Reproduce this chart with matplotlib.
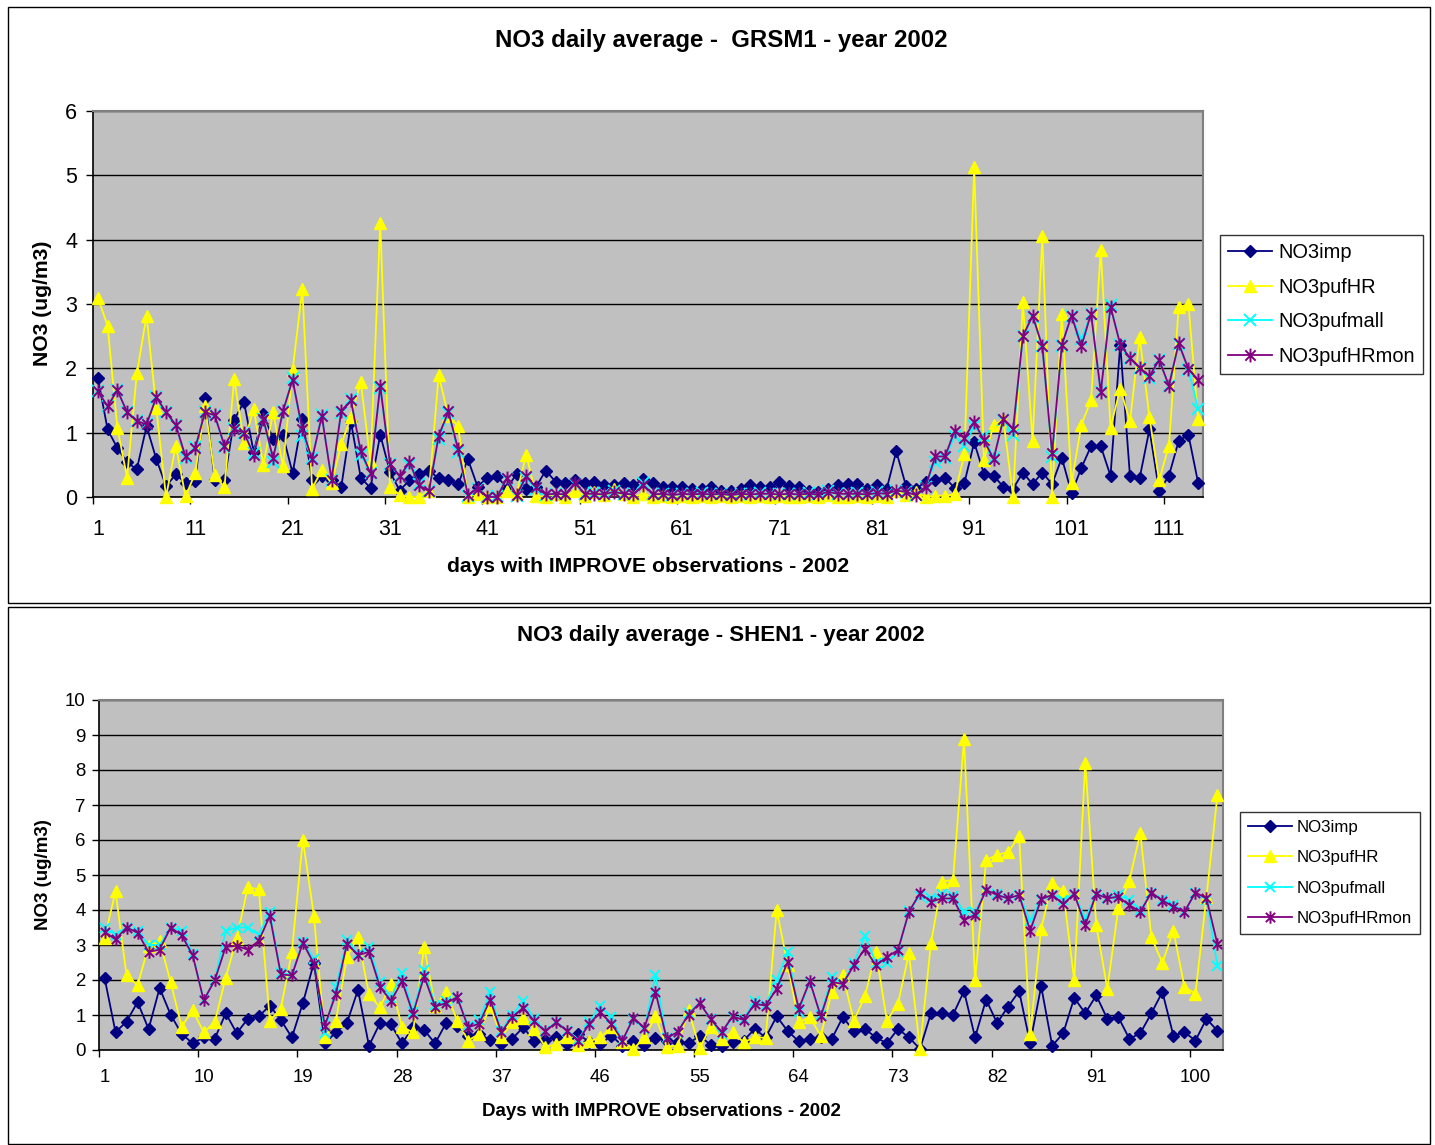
import matplotlib
matplotlib.use('Agg')
import matplotlib.pyplot as plt
from matplotlib.path import Path
from matplotlib.patches import Rectangle
import numpy as np

plt.rcParams['font.family'] = ['Liberation Sans', 'DejaVu Sans']

# ---------------- data: GRSM1 (top) ----------------
grsm_imp = [1.85,1.05,0.76,0.54,0.43,1.1,0.59,0.17,0.35,0.22,
            0.25,1.54,0.27,0.26,1.2,1.48,0.7,1.29,0.9,0.97,
            0.37,1.22,0.27,0.32,0.26,0.16,1.16,0.3,0.14,0.97,
            0.39,0.1,0.26,0.36,0.41,0.29,0.26,0.2,0.59,0.16,
            0.3,0.33,0.13,0.36,0.13,
            0.16,0.41,0.24,0.22,0.27,0.21,0.23,0.19,0.18,0.22,0.18,0.28,0.21,0.15,0.15,0.15,0.12,0.13,0.16,0.1,0.1,0.13,0.18,0.16,0.15,0.23,0.17,
            0.16,0.1,0.08,0.12,0.18,0.2,0.2,0.12,0.18,0.12,0.71,0.17,0.12,0.24,0.26,0.3,0.14,0.22,0.85,0.36,0.33,
            0.16,0.13,0.38,0.2,0.38,0.2,0.61,0.06,0.45,0.79,0.79,0.33,2.37,0.32,0.3,1.05,0.09,0.33,0.87,0.97,0.22]
grsm_hr = [3.1,2.66,1.08,0.3,1.92,2.82,1.38,0.0,0.8,0.01,
           0.37,1.42,0.34,0.15,1.84,0.84,1.37,0.5,1.32,0.48,
           1.97,3.24,0.13,0.42,0.21,0.82,1.25,1.79,0.55,4.26,
           0.16,0.03,0.0,0.0,0.1,1.89,1.26,1.1,0.0,0.05,
           0.0,0.0,0.1,0.05,0.66,
           0.02,0.0,0.05,0.0,0.1,0.02,0.08,0.03,0.12,0.04,0.0,0.05,0.0,0.02,0.0,0.01,0.0,0.02,0.0,0.01,0.0,0.02,0.0,0.01,0.0,0.02,0.0,
           0.0,0.02,0.0,0.03,0.0,0.0,0.02,0.0,0.01,0.0,0.1,0.03,0.08,0.0,0.02,0.02,0.04,0.67,5.13,0.58,1.12,
           1.2,0.0,3.03,0.87,4.05,0.0,2.85,0.21,1.12,1.5,3.84,1.08,1.68,1.18,2.48,1.24,0.26,0.8,2.95,3.0,1.22]
grsm_mall = [1.64,1.41,1.66,1.32,1.18,1.13,1.55,1.32,1.12,0.6,
             0.78,1.32,1.27,0.78,1.05,1.0,0.68,1.21,0.55,1.33,
             1.85,0.95,0.6,1.28,0.27,1.3,1.52,0.65,0.38,1.7,
             0.52,0.32,0.5,0.2,0.1,0.9,1.3,0.7,0.02,0.13,
             0.0,0.02,0.28,0.02,0.3,
             0.12,0.03,0.05,0.04,0.2,0.05,0.06,0.04,0.1,0.05,0.04,0.22,0.04,0.05,0.03,0.05,0.04,0.06,0.04,0.05,0.03,0.05,0.04,0.06,0.05,0.04,0.05,
             0.04,0.06,0.04,0.1,0.05,0.05,0.06,0.04,0.08,0.05,0.1,0.08,0.03,0.15,0.55,0.6,0.95,0.8,1.1,0.95,0.6,
             1.2,0.96,2.5,2.8,2.35,0.62,2.35,2.82,2.45,2.85,1.63,2.98,2.37,2.16,2.0,1.85,2.13,1.73,2.38,1.98,1.37]
grsm_hrmon = [1.64,1.41,1.66,1.32,1.18,1.13,1.55,1.32,1.12,0.63,
              0.76,1.32,1.27,0.8,1.05,1.0,0.66,1.21,0.6,1.33,
              1.82,1.05,0.59,1.26,0.27,1.34,1.5,0.71,0.37,1.73,
              0.52,0.32,0.54,0.18,0.09,0.95,1.33,0.74,0.03,0.13,
              0.0,0.0,0.29,0.03,0.32,
              0.15,0.04,0.05,0.04,0.22,0.05,0.05,0.04,0.08,0.05,0.04,0.19,0.04,0.05,0.03,0.05,0.04,0.05,0.04,0.05,0.03,0.05,0.04,0.05,0.05,0.04,0.05,
              0.04,0.05,0.04,0.08,0.05,0.05,0.05,0.04,0.06,0.05,0.1,0.08,0.03,0.16,0.63,0.63,1.03,0.92,1.17,0.88,0.59,
              1.22,1.06,2.5,2.82,2.34,0.68,2.36,2.82,2.34,2.85,1.63,2.96,2.37,2.16,2.01,1.88,2.13,1.73,2.39,1.99,1.82]

# ---------------- data: SHEN1 (bottom) ----------------
shen_imp = [2.07,0.51,0.81,1.37,0.6,1.77,1.01,0.46,0.19,0.36,
            0.32,1.05,0.48,0.89,0.96,1.27,0.86,0.36,1.34,2.49,
            0.19,0.51,0.77,1.72,0.12,0.77,0.73,0.19,0.65,0.57,
            0.19,0.77,0.7,0.41,0.46,0.29,0.17,0.32,0.65,0.25,
            0.3,0.36,0.17,0.46,0.22,0.17,0.41,0.12,0.25,0.15,
            0.34,0.27,0.22,0.19,0.4,0.15,0.12,0.22,0.27,0.6,
            0.36,0.96,0.54,0.25,0.32,0.36,0.32,0.94,0.54,0.6,
            0.36,0.19,0.6,0.36,0.03,1.05,1.05,1.01,1.68,0.36,
            1.44,0.77,1.24,1.68,0.19,1.82,0.12,0.48,1.49,1.05,
            1.56,0.89,0.94,0.32,0.48,1.05,1.66,0.41,0.51,0.27,
            0.89,0.55]
shen_hr = [3.19,4.53,2.13,1.85,2.97,3.12,1.94,0.67,1.13,0.51,
           0.79,2.07,3.19,4.65,4.59,0.84,1.18,2.8,6.01,3.84,
           0.36,0.84,2.66,3.23,1.59,1.22,1.89,0.65,0.51,2.95,
           1.27,1.66,0.84,0.27,0.46,1.27,0.36,0.79,0.92,0.6,
           0.08,0.17,0.36,0.15,0.25,0.36,0.65,0.22,0.03,0.36,
           0.96,0.1,0.12,1.13,0.06,0.65,0.32,0.51,0.22,0.36,
           0.35,4.0,2.42,0.79,0.94,0.41,1.66,2.13,0.84,1.53,
           2.8,0.84,1.32,2.76,0.03,3.06,4.81,4.86,8.88,1.99,
           5.42,5.58,5.65,6.11,0.46,3.47,4.78,4.53,1.99,8.21,
           3.57,1.75,4.05,4.84,6.2,3.22,2.49,3.41,1.8,1.61,
           4.38,7.3]
shen_mall = [3.5,3.3,3.5,3.4,3.0,3.0,3.5,3.4,2.75,1.42,
             2.0,3.4,3.5,3.5,3.3,3.95,2.2,2.15,3.1,2.6,
             0.5,1.8,3.15,2.75,2.95,1.95,1.5,2.2,1.1,2.3,
             1.3,1.4,1.5,0.7,0.85,1.65,0.55,1.0,1.4,0.88,
             0.55,0.8,0.55,0.3,0.8,1.25,0.95,0.25,0.9,0.6,
             2.15,0.35,0.5,1.05,1.35,0.9,0.45,0.95,0.9,1.4,
             1.3,2.0,2.8,1.1,1.95,1.0,2.1,1.9,2.5,3.25,
             2.5,2.5,2.8,3.98,4.4,4.35,4.45,4.4,3.95,3.95,
             4.55,4.45,4.33,4.43,3.7,4.3,4.43,4.3,4.46,3.75,
             4.45,4.35,4.42,4.3,4.0,4.48,4.3,4.15,3.95,4.48,
             4.3,2.4]
shen_hrmon = [3.38,3.16,3.5,3.35,2.8,2.87,3.5,3.28,2.71,1.42,
              1.99,2.95,2.97,2.87,3.12,3.83,2.16,2.13,3.06,2.47,
              0.7,1.61,3.04,2.71,2.8,1.8,1.4,1.97,1.03,2.11,
              1.24,1.34,1.51,0.65,0.75,1.44,0.51,0.94,1.21,0.82,
              0.53,0.79,0.54,0.27,0.75,1.08,0.75,0.27,0.92,0.63,
              1.66,0.34,0.51,1.01,1.34,0.89,0.51,0.96,0.86,1.32,
              1.27,1.75,2.52,1.18,1.97,0.96,1.94,1.89,2.42,2.9,
              2.42,2.66,2.85,3.95,4.48,4.24,4.33,4.33,3.71,3.86,
              4.57,4.43,4.33,4.43,3.41,4.31,4.43,4.17,4.46,3.57,
              4.46,4.33,4.38,4.14,3.95,4.5,4.27,4.1,3.95,4.5,
              4.33,3.02]

series_names = ['NO3imp', 'NO3pufHR', 'NO3pufmall', 'NO3pufHRmon']

# ---------------- figure ----------------
W, H = 1435, 1145
fig = plt.figure(figsize=(W / 100, H / 100), dpi=100)

def fx(px):
    return px / W

def fy(py):
    return 1 - py / H

# outer chart frames
for (x0, y0, x1, y1) in [(8, 7, 1430, 603), (8, 607, 1430, 1144)]:
    fig.patches.append(Rectangle((fx(x0), fy(y1)), fx(x1) - fx(x0), fy(y0) - fy(y1),
                                 transform=fig.transFigure, fill=False,
                                 edgecolor='black', lw=1.0))

star = Path([(-1, -1), (1, 1), (-1, 1), (1, -1), (0, -1.35), (0, 1.35)],
            [Path.MOVETO, Path.LINETO, Path.MOVETO, Path.LINETO, Path.MOVETO, Path.LINETO])

styles = [
    dict(color='#000080', marker='D', mfc='#000080', mec='#000080'),
    dict(color='#FFFF00', marker='^', mfc='#FFFF00', mec='#FFFF00'),
    dict(color='#00FFFF', marker='x', mfc='none', mec='#00FFFF'),
    dict(color='#800080', marker=star, mfc='none', mec='#800080'),
]


def draw(rect, data, ymax, label_every, tick_fs, ms_scale, xpad, ypad):
    ax = fig.add_axes(rect)
    n = len(data[0])
    x = np.arange(1, n + 1)
    ax.set_facecolor('#C0C0C0')
    sizes = [6.5, 9.0, 8.5, 10.0]
    mews = [1.0, 1.0, 1.4, 1.4]
    lines = []
    for i, (vals, st) in enumerate(zip(data, styles)):
        ln, = ax.plot(x, vals, color=st['color'], lw=1.3, marker=st['marker'],
                      markersize=sizes[i] * ms_scale, markerfacecolor=st['mfc'],
                      markeredgecolor=st['mec'], markeredgewidth=mews[i],
                      zorder=3 + i, clip_on=False)
        lines.append(ln)
    ax.set_xlim(0.5, n + 0.5)
    ax.set_ylim(0, ymax)
    ax.set_yticks(range(0, ymax + 1))
    ax.yaxis.grid(True, color='black', lw=1.0)
    ax.set_axisbelow(True)
    labs = list(range(1, n + 1, label_every))
    ax.set_xticks(labs)
    ax.set_xticklabels([str(v) for v in labs])
    ax.set_xticks(np.arange(0.5, n + 0.6, label_every), minor=True)
    ax.tick_params(axis='x', which='major', length=0, pad=xpad, labelsize=tick_fs)
    ax.tick_params(axis='x', which='minor', length=5, direction='out', width=1)
    ax.tick_params(axis='y', length=5, direction='out', width=1, pad=ypad, labelsize=tick_fs)
    for s in ['left', 'bottom']:
        ax.spines[s].set_color('black')
        ax.spines[s].set_linewidth(1.2)
    for s in ['top', 'right']:
        ax.spines[s].set_color('#808080')
        ax.spines[s].set_linewidth(1.5)
    return ax, lines


# top chart
ax1, l1 = draw([fx(93), fy(497), fx(1203) - fx(93), fy(111) - fy(497)],
               [grsm_imp, grsm_hr, grsm_mall, grsm_hrmon], 6, 10, 15.5, 1.0, 16, 6.5)
fig.text(fx(721), fy(41), 'NO3 daily average -  GRSM1 - year 2002', ha='center', va='center',
         fontsize=17.3, fontweight='bold')
fig.text(fx(648), fy(566), 'days with IMPROVE observations - 2002', ha='center', va='center',
         fontsize=15.2, fontweight='bold')
fig.text(fx(43), fy(303), 'NO3 (ug/m3)', ha='center', va='center', rotation=90,
         fontsize=15.2, fontweight='bold')
leg1 = fig.legend(l1, series_names, loc='upper left', bbox_to_anchor=(fx(1220), fy(235)),
                  fontsize=14.4, frameon=True, fancybox=False, edgecolor='black',
                  handlelength=2.2, labelspacing=0.78, borderpad=0.4, handletextpad=0.3,
                  borderaxespad=0)
leg1.get_frame().set_linewidth(1.0)

# bottom chart
ax2, l2 = draw([fx(99), fy(1050), fx(1223) - fx(99), fy(700) - fy(1050)],
               [shen_imp, shen_hr, shen_mall, shen_hrmon], 10, 9, 13.4, 0.9, 14, 4.5)
fig.text(fx(721), fy(635), 'NO3 daily average - SHEN1 - year 2002', ha='center', va='center',
         fontsize=16, fontweight='bold')
fig.text(fx(661), fy(1112), 'Days with IMPROVE observations - 2002', ha='center', va='center',
         fontsize=13.5, fontweight='bold')
fig.text(fx(43), fy(875), 'NO3 (ug/m3)', ha='center', va='center', rotation=90,
         fontsize=13.5, fontweight='bold')
leg2 = fig.legend(l2, series_names, loc='upper left', bbox_to_anchor=(fx(1240), fy(812)),
                  fontsize=12.2, frameon=True, fancybox=False, edgecolor='black',
                  handlelength=2.6, labelspacing=0.92, borderpad=0.45, handletextpad=0.3,
                  borderaxespad=0)
leg2.get_frame().set_linewidth(1.0)

fig.savefig('out.png', dpi=100, facecolor='white')
